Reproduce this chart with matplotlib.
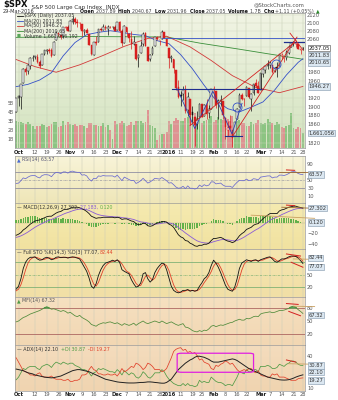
import numpy as np
import matplotlib
matplotlib.use("Agg")
import matplotlib.pyplot as plt
from matplotlib.colors import LinearSegmentedColormap
from matplotlib.patches import FancyBboxPatch
from matplotlib.ticker import FixedLocator, FixedFormatter, NullLocator
import matplotlib.transforms as mtransforms

# ---------------- data (daily bars, 30-Sep-2015 .. 28-Mar-2016) ----------------
opens = [1887.14, 1919.65, 1921.77, 1954.33, 1986.63, 1982.34, 1994.01, 2013.73, 2015.65, 2015.00,
         2003.66, 1996.47, 2024.37, 2031.73, 2033.13, 2033.47, 2021.88, 2058.19, 2075.08, 2068.75,
         2066.48, 2088.35, 2090.00, 2080.76, 2102.63, 2110.60, 2101.68, 2098.60, 2096.56, 2077.19,
         2083.41, 2072.29, 2044.64, 2022.08, 2053.67, 2051.99, 2083.70, 2082.82, 2089.41, 2084.42,
         2089.30, 2088.82, 2090.95, 2082.93, 2101.71, 2080.71, 2051.24, 2090.42, 2073.39, 2061.17,
         2047.93, 2047.27, 2013.37, 2025.55, 2046.50, 2073.76, 2040.81, 2010.27, 2023.15, 2042.20,
         2063.52, 2057.77, 2060.54, 2077.34, 2060.59, 2038.20, 2013.78, 2011.71, 1985.32, 1945.97,
         1926.12, 1927.83, 1940.34, 1891.68, 1916.68, 1888.66, 1876.18, 1861.46, 1877.40, 1906.28,
         1878.79, 1902.52, 1885.22, 1894.00, 1936.94, 1935.26, 1907.07, 1911.67, 1913.07, 1873.25,
         1848.46, 1857.10, 1847.00, 1833.40, 1871.44, 1898.80, 1927.57, 1916.74, 1924.44, 1942.38,
         1917.56, 1931.87, 1954.95, 1947.13, 1937.09, 1976.60, 1985.60, 1994.01, 1996.11, 1996.05,
         1981.44, 1990.97, 1994.71, 2019.27, 2015.27, 2014.24, 2026.90, 2041.16, 2047.88, 2048.64,
         2048.55, 2032.48, 2037.89]
highs = [1920.53, 1927.21, 1951.36, 1989.17, 1991.62, 1999.31, 2016.50, 2020.13, 2018.66, 2022.34,
         2009.56, 2024.15, 2033.54, 2034.45, 2039.12, 2037.97, 2055.20, 2079.74, 2075.14, 2070.37,
         2090.35, 2092.52, 2094.32, 2106.20, 2116.48, 2114.59, 2108.78, 2101.91, 2096.56, 2083.67,
         2086.94, 2072.29, 2044.64, 2053.22, 2066.69, 2085.31, 2086.74, 2097.06, 2095.61, 2094.12,
         2093.00, 2093.29, 2093.81, 2103.37, 2104.27, 2085.00, 2093.84, 2090.42, 2073.85, 2080.33,
         2067.65, 2047.27, 2022.92, 2053.87, 2076.72, 2076.37, 2040.81, 2022.90, 2042.74, 2064.73,
         2067.36, 2057.77, 2081.56, 2077.34, 2062.54, 2038.20, 2021.94, 2011.71, 1985.32, 1960.40,
         1935.65, 1947.38, 1950.33, 1934.47, 1916.68, 1901.44, 1876.18, 1889.85, 1908.85, 1906.28,
         1906.73, 1916.99, 1902.96, 1940.24, 1947.20, 1935.26, 1918.01, 1927.35, 1913.07, 1873.25,
         1868.25, 1881.60, 1847.00, 1864.78, 1895.77, 1930.68, 1930.00, 1918.78, 1946.70, 1942.38,
         1932.08, 1951.83, 1962.96, 1958.27, 1978.35, 1986.51, 1993.69, 2009.13, 2006.12, 1996.05,
         1992.69, 2005.08, 2022.37, 2024.57, 2015.94, 2032.02, 2046.24, 2052.36, 2053.91, 2056.60,
         2048.55, 2036.04, 2040.67]
lows = [1887.14, 1900.70, 1893.70, 1954.33, 1971.99, 1976.44, 1987.53, 2007.61, 2010.55, 2001.78,
        1990.73, 1996.47, 2020.46, 2022.31, 2026.61, 2017.22, 2021.88, 2058.19, 2066.53, 2058.84,
        2063.11, 2082.63, 2079.34, 2080.76, 2097.51, 2096.98, 2090.41, 2083.74, 2068.24, 2069.91,
        2074.85, 2045.66, 2022.02, 2019.94, 2045.90, 2051.99, 2078.76, 2082.82, 2081.39, 2070.29,
        2086.30, 2084.13, 2080.41, 2082.93, 2077.11, 2042.35, 2051.24, 2066.78, 2052.32, 2036.53,
        2045.67, 2008.80, 1993.26, 2025.55, 2042.43, 2041.66, 2005.33, 2005.93, 2020.49, 2042.20,
        2058.73, 2044.20, 2060.54, 2061.97, 2043.62, 1989.68, 2004.17, 1979.05, 1938.83, 1918.46,
        1901.10, 1914.35, 1886.41, 1878.93, 1857.83, 1864.60, 1812.29, 1848.98, 1877.40, 1875.97,
        1878.79, 1872.70, 1873.65, 1894.00, 1920.03, 1897.29, 1872.23, 1900.52, 1872.65, 1828.46,
        1834.94, 1850.32, 1810.10, 1833.40, 1871.44, 1898.80, 1915.09, 1902.17, 1924.44, 1919.44,
        1891.00, 1925.41, 1945.78, 1931.81, 1937.09, 1968.80, 1977.37, 1986.77, 1989.38, 1977.43,
        1979.84, 1969.25, 1994.71, 2012.05, 2005.23, 2010.04, 2022.16, 2041.16, 2043.14, 2040.57,
        2034.86, 2022.49, 2031.96]
closes = [1920.03, 1923.82, 1951.36, 1987.05, 1979.92, 1995.83, 2013.43, 2014.89, 2017.46, 2003.69,
          1994.24, 2023.86, 2033.11, 2033.66, 2030.77, 2018.94, 2052.51, 2075.15, 2071.18, 2065.89,
          2090.35, 2089.41, 2079.36, 2104.05, 2109.79, 2102.31, 2099.93, 2099.20, 2078.58, 2081.72,
          2075.00, 2045.97, 2023.04, 2053.19, 2050.44, 2083.58, 2081.24, 2089.17, 2086.59, 2089.14,
          2088.87, 2090.11, 2080.41, 2102.63, 2079.51, 2049.62, 2091.69, 2077.07, 2063.59, 2047.62,
          2052.23, 2012.37, 2021.94, 2043.41, 2073.07, 2041.89, 2005.55, 2021.15, 2038.97, 2064.29,
          2060.99, 2056.50, 2078.36, 2063.36, 2043.94, 2012.66, 2016.71, 1990.26, 1943.09, 1922.03,
          1923.67, 1938.68, 1890.28, 1921.84, 1880.33, 1881.33, 1859.33, 1868.99, 1906.90, 1877.08,
          1903.63, 1882.95, 1893.36, 1940.24, 1939.38, 1903.03, 1912.53, 1915.45, 1880.05, 1853.44,
          1852.21, 1851.86, 1829.08, 1864.78, 1895.58, 1926.82, 1917.83, 1917.78, 1945.50, 1921.27,
          1929.80, 1951.70, 1948.05, 1932.23, 1978.35, 1986.45, 1993.40, 1999.99, 2001.76, 1979.26,
          1989.26, 1989.57, 2022.19, 2019.64, 2015.93, 2027.22, 2040.59, 2049.58, 2051.60, 2049.80,
          2036.71, 2035.94, 2037.05]
volume_b = [3.0, 2.9, 2.9, 2.8, 2.7, 2.9, 2.7, 2.5, 2.1, 2.4,
            2.5, 2.7, 2.6, 2.3, 2.5, 2.7, 2.9, 2.9, 2.3, 2.5,
            3.0, 2.6, 2.9, 2.7, 2.6, 2.7, 2.5, 2.6, 2.6, 2.5,
            2.2, 2.8, 2.8, 2.6, 2.6, 2.4, 2.4, 2.8, 2.3, 2.6,
            2.0, 1.0, 3.0, 2.7, 2.8, 3.0, 2.8, 2.5, 2.6, 2.9,
            2.6, 3.0, 3.0, 3.0, 2.8, 2.9, 4.2, 2.6, 2.4, 2.2,
            0.9, 1.5, 1.6, 1.6, 1.8, 3.0, 2.7, 3.0, 3.3, 3.1,
            3.0, 3.0, 3.3, 3.4, 3.6, 3.4, 3.9, 3.3, 3.1, 2.8,
            3.0, 3.1, 3.2, 3.6, 2.9, 3.1, 3.5, 3.2, 3.1, 3.4,
            3.2, 3.0, 3.6, 2.9, 3.0, 3.1, 2.8, 2.8, 2.5, 2.4,
            2.9, 2.7, 2.8, 3.1, 2.8, 2.7, 2.8, 3.2, 2.9, 2.8,
            2.6, 2.9, 2.7, 2.3, 2.2, 2.4, 2.6, 3.9, 2.2, 2.1,
            2.3, 2.2, 1.66]

# moving averages (bar index, value)
ma20_idx = [0, 5, 10, 15, 20, 25, 30, 35, 40, 45, 50, 55, 60, 65, 70, 75, 80, 85, 90, 95, 100, 105, 110, 115, 120, 122]
ma20_val = [1945.9, 1951.2, 1961.4, 1978.6, 2018.9, 2051.2, 2070.7, 2076.5, 2080.5, 2076.4, 2071.3, 2068.1, 2055.9,
            2048.5, 2021.7, 1987.7, 1948.9, 1914.1, 1895.1, 1887.9, 1898.6, 1910.5, 1938.0, 1973.3, 2003.2, 2011.83]
ma50_idx = [0, 8, 17, 27, 37, 46, 56, 64, 74, 83, 92, 102, 112, 122]
ma50_val = [2010.0, 1993.0, 1979.7, 1997.3, 2019.9, 2042.0, 2061.4, 2066.9, 2040.6, 2007.7, 1971.6, 1944.0, 1931.8, 1946.27]
ma200_idx = [0, 30, 64, 78, 95, 107, 122]
ma200_val = [2064.0, 2066.0, 2065.0, 2050.0, 2035.0, 2024.0, 2010.65]

rsi = [41, 42, 48, 55, 53, 57, 60, 61, 61, 57, 55, 61, 63, 63, 62, 58, 65, 69, 68, 66,
       70, 70, 67, 71, 72, 70, 69, 69, 62, 63, 60, 52, 47, 54, 53, 60, 59, 61, 60, 60,
       60, 60, 57, 62, 55, 48, 57, 54, 51, 48, 49, 41, 44, 48, 54, 48, 42, 45, 49, 54,
       53, 52, 56, 52, 48, 42, 43, 38, 32, 29, 30, 34, 28, 35, 29, 29, 27, 29, 37, 33,
       38, 35, 37, 45, 45, 40, 41, 42, 37, 34, 34, 34, 31, 38, 44, 49, 48, 48, 52, 48,
       49, 53, 52, 50, 57, 58, 59, 60, 60, 55, 57, 57, 62, 62, 61, 63, 66, 70, 71, 70,
       66, 64, 63.57]
macd = [-24, -22, -19, -14, -11, -7, -3, 0, 3, 4, 5, 7, 9, 11, 12, 12, 15, 18, 20, 21,
        24, 25, 25, 27, 29, 29, 29, 28, 26, 24, 21, 17, 12, 10, 8, 9, 9, 10, 10, 10,
        10, 10, 9, 10, 9, 6, 7, 7, 5, 3, 2, -2, -4, -4, -1, -2, -6, -7, -6, -3,
        -1, 0, 2, 2, 1, -3, -5, -9, -16, -23, -27, -29, -34, -35, -39, -41, -44, -45, -43, -43,
        -41, -41, -39, -34, -30, -30, -29, -28, -30, -33, -35, -36, -38, -36, -31, -25, -21, -18, -13, -11,
        -9, -5, -3, -2, 3, 7, 11, 14, 17, 17, 17, 17, 22, 24, 25, 27, 29, 30, 31, 31,
        29.5, 28.5, 27.302]
signal = [-28, -26.8, -25.2, -23.0, -20.6, -17.9, -14.9, -11.9, -8.9, -6.3, -4.0, -1.8, 0.4, 2.5, 4.4, 5.9, 7.7, 9.8, 11.8, 13.6,
          15.7, 17.6, 19.0, 20.6, 22.3, 23.6, 24.7, 25.4, 25.5, 25.2, 24.4, 22.9, 20.7, 18.6, 16.5, 15.0, 13.8, 13.0, 12.4, 11.9,
          11.5, 11.2, 10.8, 10.6, 10.3, 9.4, 8.9, 8.5, 7.8, 6.8, 5.8, 4.2, 2.6, 1.3, 0.8, 0.2, -1.0, -2.2, -3.0, -3.0,
          -2.6, -2.1, -1.3, -0.6, -0.3, -0.8, -1.6, -3.1, -5.7, -9.2, -12.8, -16.0, -19.6, -22.7, -26.0, -29.0, -32.0, -34.6, -36.3, -37.6,
          -38.3, -38.8, -38.8, -37.8, -36.2, -35.0, -33.8, -32.6, -32.1, -32.3, -32.8, -33.4, -34.3, -34.6, -33.9, -32.1, -29.9, -27.5, -24.6, -21.9,
          -19.3, -16.4, -13.7, -11.4, -8.5, -5.4, -2.1, 1.1, 4.3, 6.8, 8.8, 10.4, 12.7, 15.0, 17.0, 19.0, 21.0, 22.8, 24.4, 25.7,
          26.5, 26.9, 27.183]
sto_k = [15, 22, 40, 65, 80, 88, 92, 92, 93, 88, 85, 86, 90, 92, 90, 86, 88, 92, 93, 91,
         92, 92, 90, 92, 93, 92, 90, 88, 78, 68, 58, 42, 22, 17, 28, 48, 62, 72, 78, 80,
         82, 85, 82, 86, 80, 62, 58, 55, 52, 38, 28, 20, 22, 30, 52, 55, 40, 32, 38, 55,
         65, 72, 78, 76, 62, 42, 22, 12, 8, 6, 8, 12, 12, 14, 10, 12, 10, 12, 22, 30,
         40, 45, 55, 72, 85, 78, 68, 55, 40, 25, 15, 12, 10, 20, 40, 65, 78, 82, 86, 84,
         82, 85, 86, 82, 86, 88, 90, 92, 93, 88, 82, 80, 84, 88, 88, 90, 93, 95, 95, 94,
         90, 84, 77.07]
sto_d = [11, 15, 25.7, 42.3, 61.7, 77.7, 86.7, 90.7, 92.3, 91, 88.7, 86.3, 87, 89.3, 90.7, 89.3, 88, 88.7, 91, 92,
         92, 91.7, 91.3, 91.3, 91.7, 92.3, 91.7, 90, 85.3, 78, 68, 56, 40.7, 27, 22.3, 31, 46, 60.7, 70.7, 76.7,
         80, 82.3, 83, 84.3, 82.7, 76, 66.7, 58.3, 55, 48.3, 39.3, 28.7, 23.3, 24, 34.7, 45.7, 49, 42.3, 36.7, 41.7,
         52.7, 64, 71.7, 75.3, 72, 60, 42, 25.3, 14, 8.7, 7.3, 8.7, 10.7, 12.7, 12, 12, 10.7, 11.3, 14.7, 21.3,
         30.7, 38.3, 46.7, 57.3, 70.7, 78.3, 77, 67, 54.3, 40, 26.7, 17.3, 12.3, 14, 23.3, 41.7, 61, 75, 82, 84,
         84, 83.7, 84.3, 84.3, 84.7, 85.3, 88, 90, 91.7, 91, 87.7, 83.3, 82, 84, 86.7, 88.7, 90.3, 92.7, 94.3, 94.7,
         93, 89.3, 82.44]
mfi = [48, 50, 54, 58, 60, 63, 66, 68, 70, 72, 74, 77, 80, 82, 80, 77, 78, 76, 74, 72,
       74, 72, 68, 70, 66, 62, 60, 63, 58, 55, 52, 48, 42, 40, 38, 42, 44, 46, 45, 47,
       48, 46, 44, 46, 43, 40, 44, 42, 40, 42, 45, 40, 44, 47, 50, 46, 44, 46, 48, 50,
       48, 46, 50, 47, 44, 46, 48, 45, 42, 40, 42, 44, 36, 35, 32, 28, 26, 25, 28, 26,
       29, 28, 32, 38, 40, 37, 39, 41, 40, 42, 44, 46, 47, 50, 52, 54, 52, 52, 56, 55,
       57, 60, 61, 60, 66, 68, 69, 70, 71, 69, 70, 72, 74, 74, 75, 77, 79, 82, 83, 81,
       76, 72, 67.32]
adx = [27.5, 27, 26.5, 26, 25, 24, 23.5, 23, 22, 21.5, 21, 20.5, 20, 19.7, 19.5, 19.3, 19.5, 20, 20.5, 21,
       22, 23, 24, 25, 26, 26.5, 27, 27, 26.5, 26, 25.5, 25, 24, 23, 22, 21, 20, 19, 18, 17.5,
       17, 16.5, 16, 15.5, 15.2, 15, 14.8, 14.6, 14.5, 14.5, 14.5, 14.6, 14.8, 15, 15, 15.2, 15.5, 15.5, 15.3, 15,
       14.8, 14.5, 14.3, 14.3, 15, 16.5, 18, 21, 24, 27, 29, 31, 33, 34.5, 36, 37, 38.5, 39.5, 39.5, 39,
       38.5, 37.5, 36.5, 35, 34, 34, 34, 34.5, 35, 35.5, 36, 36.5, 37, 36.5, 35.5, 34, 32.5, 31, 29.5, 28,
       27, 26, 25, 24, 23, 22, 21, 20, 19.5, 19, 18.5, 18, 17.5, 17.3, 17.2, 17.3, 17.6, 18.2, 19, 20,
       20.8, 21.5, 22.10]
plus_di = [17.5, 20, 24, 28, 27, 29, 30, 30, 30, 28, 27, 30, 31, 32, 31, 29, 32, 34, 33, 32,
           34, 33, 32, 33, 33, 31, 30, 29, 27, 27, 26, 24, 21, 24, 25, 28, 27, 28, 27, 26,
           25, 25, 24, 27, 25, 22, 26, 24, 22, 24, 23, 20, 19, 21, 25, 23, 20, 19, 21, 24,
           24, 24, 27, 25, 21, 18, 16, 14, 13, 12, 12, 14, 12, 14, 12, 12, 11, 12, 17, 15,
           16, 15, 15, 20, 18, 16, 15, 15, 14, 12, 13, 13, 12, 16, 20, 25, 24, 23, 27, 25,
           25, 27, 27, 25, 30, 30, 30, 31, 30, 28, 28, 29, 32, 31, 30, 32, 33, 35, 35, 34,
           32, 31, 30.87]
minus_di = [38, 34, 30, 26, 25, 24, 22, 22, 21, 23, 24, 21, 20, 20, 20, 21, 19, 18, 18, 18,
            17, 17, 18, 16, 16, 17, 17, 18, 22, 22, 23, 27, 30, 27, 26, 23, 23, 22, 22, 23,
            22, 22, 23, 21, 24, 28, 25, 26, 28, 30, 29, 33, 32, 30, 27, 29, 33, 32, 30, 27,
            27, 27, 25, 26, 28, 33, 38, 44, 46, 47, 47.5, 45, 46, 43, 44, 42, 43, 40, 36, 37,
            34, 33, 32, 28, 27, 31, 30, 32, 33, 35, 34, 32, 33, 30, 27, 25, 26, 27, 26, 28,
            28, 25, 24, 26, 22, 21, 21, 20, 20, 23, 22, 23, 20, 20, 20, 19, 18, 17, 17, 17,
            18.5, 19, 19.27]

tick_pos = [1, 8, 13, 18, 23, 28, 33, 38, 43, 47, 52, 57, 61, 65, 70, 75, 79, 84, 89, 94, 98, 104, 108, 113, 118, 122]
tick_lbl = ["Oct", "12", "19", "26", "Nov", "9", "16", "23", "Dec", "7", "14", "21", "28", "2016",
            "11", "19", "25", "Feb", "8", "16", "22", "Mar", "7", "14", "21", "28"]
month_lbl = {"Oct", "Nov", "Dec", "2016", "Feb", "Mar"}
price_grid = list(range(1820, 2121, 20))
price_ticks = [2120, 2100, 2080, 2060, 1980, 1960, 1920, 1900, 1880, 1860, 1820]

# ---------------- figure ----------------
W, H = 338, 400
fig = plt.figure(figsize=(W / 100, H / 100), dpi=100)
fig.patch.set_facecolor("white")
FS = 3.7
LFS = 3.4
x = np.arange(len(closes))
XL = (-0.51, 122.9)


def panel(y_top, y_bot):
    return fig.add_axes([15 / W, 1 - y_bot / H, 290 / W, (y_bot - y_top) / H])


def shade(ax, c_top, c_bot):
    cmap = LinearSegmentedColormap.from_list("bg", [c_top, c_bot])
    ax.imshow(np.linspace(0, 1, 64)[:, None], aspect="auto", cmap=cmap,
              extent=[0, 1, 0, 1], transform=ax.transAxes, zorder=0)


def frame(ax, gridc="#c9cbb8"):
    for s in ax.spines.values():
        s.set_color("#9a9a9a")
        s.set_linewidth(0.5)
    for p in tick_pos:
        ax.axvline(p, color=gridc, lw=0.35, zorder=1)
    ax.set_xlim(*XL)
    ax.set_xticks([])
    ax.yaxis.tick_right()
    ax.tick_params(axis="y", which="both", length=0, labelsize=FS, pad=1.5, labelcolor="#555555")


def tag(ax, val, text, fc="#dbe7f1", ec="#7f96aa", tc="#333333", dy=0.0):
    tr = mtransforms.blended_transform_factory(ax.transAxes, ax.transData)
    off = mtransforms.offset_copy(tr, fig=fig, x=0, y=dy, units="points")
    ax.text(1.012, val, text, transform=off, fontsize=FS, color=tc, va="center", ha="left",
            bbox=dict(boxstyle="square,pad=0.12", fc=fc, ec=ec, lw=0.4), clip_on=False, zorder=10)


def chain(ax, x0, y0, parts, coords=None, fs=LFS):
    """Write consecutive text pieces, each starting where the previous one ends."""
    tr = ax.transAxes if coords is None else coords
    t0, c0, w0, s0 = parts[0]
    prev = ax.text(x0, y0, t0, transform=tr, fontsize=s0 or fs, color=c0, fontweight=w0,
                   va="baseline", ha="left", zorder=9)
    for t, col, wt, sz in parts[1:]:
        prev = ax.annotate(t, xy=(1, 0), xycoords=prev, fontsize=sz or fs, color=col, fontweight=wt,
                           va="bottom", ha="left", zorder=9)
    return prev


def xlabels(ax):
    tr = mtransforms.blended_transform_factory(ax.transData, ax.transAxes)
    for p, t in zip(tick_pos, tick_lbl):
        ax.text(p, -0.012, t, transform=tr, ha="center", va="top", fontsize=FS,
                fontweight="bold" if t in month_lbl else "normal",
                color="#222222" if t in month_lbl else "#555555", clip_on=False)


# ---------------- header ----------------
hdr = fig.add_axes([0, 0, 1, 1])
hdr.set_axis_off()
hdr.set_xlim(0, W)
hdr.set_ylim(H, 0)
chain(hdr, 3, 7.5, [("$SPX", "#111111", "bold", 6.0),
                    ("  S&P 500 Large Cap Index  INDX", "#333333", "normal", 4.1)], coords=hdr.transData)
hdr.text(305, 5, "@StockCharts.com", fontsize=3.9, va="center", ha="right", color="#555555")
hdr.text(3, 11.5, "29-Mar-2016", fontsize=3.6, va="center", color="#333333")
chain(hdr, 80, 12.8,
      [("Open ", "#111111", "bold", None), ("2037.89  ", "#444444", "normal", None),
       ("High ", "#111111", "bold", None), ("2040.67  ", "#444444", "normal", None),
       ("Low ", "#111111", "bold", None), ("2031.96  ", "#444444", "normal", None),
       ("Close ", "#111111", "bold", None), ("2037.05  ", "#444444", "normal", None),
       ("Volume ", "#111111", "bold", None), ("1.7B  ", "#444444", "normal", None),
       ("Chg ", "#111111", "bold", None), ("+1.11 (+0.05%) ", "#444444", "normal", None),
       ("\u25b2", "#2a8a2a", "normal", None)],
      coords=hdr.transData, fs=3.45)

# ---------------- price panel (volume axis underneath) ----------------
P_TOP, P_BOT = 13, 148
axv = panel(P_TOP, P_BOT)
shade(axv, "#f1f4e4", "#d3e3bf")
vcol = ["#8cc482" if (i == 0 or closes[i] >= closes[i - 1]) else "#df9292" for i in x]
axv.bar(x, volume_b, width=0.8, color=vcol, zorder=2)
axv.set_ylim(0, (P_BOT - P_TOP) / 9.0)
axv.set_xlim(*XL)
axv.set_xticks([])
axv.set_yticks([1, 2, 3, 4, 5])
axv.set_yticklabels(["1B", "2B", "3B", "4B", "5B"])
axv.tick_params(axis="y", length=0, labelsize=3.3, pad=1.0, labelcolor="#555555")
for s in axv.spines.values():
    s.set_visible(False)

axp = panel(P_TOP, P_BOT)
axp.patch.set_visible(False)
axp.set_yscale("log")
frame(axp, "#c2ccb2")
for lvl in price_grid:
    axp.axhline(lvl, color="#cfd8bf", lw=0.3, zorder=1)

axp.plot(ma200_idx, ma200_val, color="#3a8f3a", lw=0.6, zorder=3)
axp.plot(ma50_idx, ma50_val, color="#d23a3a", lw=0.6, zorder=3)
axp.plot(ma20_idx, ma20_val, color="#3550c8", lw=0.6, zorder=3)

o = np.array(opens); c = np.array(closes); hi = np.array(highs); lo = np.array(lows)
prev_c = np.r_[c[0] - 1, c[:-1]]
ccol = np.where(c >= prev_c, "#111111", "#d81e1e")
axp.vlines(x, lo, hi, colors=ccol, lw=0.5, zorder=4)
body_lo = np.minimum(o, c)
body_h = np.maximum(np.abs(c - o), 0.8)
filled = c < o
face = [cc if f else "white" for cc, f in zip(ccol, filled)]
axp.bar(x, body_h, bottom=body_lo, width=0.7, color=face, edgecolor=ccol, linewidth=0.35, zorder=5)

# drawn trend lines and pattern marks
axp.plot([66.3, 105], [1939.7, 1939.7], color="#1f2f8f", lw=0.8, zorder=6)
axp.plot([62, 122.5], [2062.2, 2062.2], color="#3550c8", lw=0.6, zorder=6)
axp.plot([114, 123], [2052.3, 2052.3], color="#1f2f8f", lw=0.9, zorder=6)
axp.plot([88.9, 96.1], [1835.3, 1835.3], color="#1f2f8f", lw=0.8, zorder=6)
axp.plot([68.4, 76, 83.7, 91.8, 96.1], [1942.0, 1850.8, 1935.3, 1838.9, 1907.3], color="#2b3fae", lw=0.6, zorder=6)
axp.plot([74.0, 118.6], [1857.5, 2052.3], color="#d42020", lw=0.6, zorder=6)
axp.plot([92.3, 119.5], [1835.3, 2064.7], color="#d42020", lw=0.6, zorder=6)
axp.plot([116.5, 122.1], [2074.6, 2032.7], color="#d42020", lw=0.6, zorder=6)
axp.plot([94.0, 110.5], [1898.0, 1999.0], ls="none", marker="o", ms=6.5, mfc="none",
         mec="#3550c8", mew=0.6, zorder=6)

axp.set_ylim(1808.1, 2125.1)
axp.set_xlim(*XL)
axp.yaxis.set_major_locator(FixedLocator(price_ticks))
axp.yaxis.set_major_formatter(FixedFormatter([str(v) for v in price_ticks]))
axp.yaxis.set_minor_locator(NullLocator())
tag(axp, 2037.05, "2037.05", fc="#ffffff", ec="#444444", tc="#111111")
tag(axp, 2011.83, "2011.83", dy=2.4)
tag(axp, 2010.65, "2010.65", dy=-2.4)
tag(axp, 1946.27, "1946.27")
tag(axv, 1.66, "1,661,056")
xlabels(axp)

leg = [("$SPX (Daily) 2037.05", "#111111"), ("MA(20) 2011.83", "#3550c8"), ("MA(50) 1946.27", "#d23a3a"),
       ("MA(200) 2010.65", "#3a8f3a")]
for k, (t, col) in enumerate(leg):
    yy = 1 - (3 + 5 * k) / 135
    axp.plot([0.006, 0.026], [yy, yy], transform=axp.transAxes, color=col, lw=0.6, zorder=8)
    axp.text(0.032, yy, t, transform=axp.transAxes, fontsize=LFS, va="center", color="#333333", zorder=8)
yy = 1 - 23 / 135
axp.text(0.006, yy, "\u25a0", transform=axp.transAxes, fontsize=3.0, va="center", color="#5aa65a", zorder=8)
axp.text(0.032, yy, "Volume 1,661,056,192", transform=axp.transAxes, fontsize=LFS, va="center",
         color="#333333", zorder=8)

# ---------------- RSI ----------------
axr = panel(156, 203)
shade(axr, "#f8f4d8", "#efe6b8")
frame(axr)
axr.axhline(70, color="#7d7d9a", lw=0.5)
axr.axhline(30, color="#7d7d9a", lw=0.5)
axr.axhline(50, color="#8a8a9a", lw=0.4, ls=(0, (4, 1.5, 1, 1.5)))
axr.plot(x, rsi, color="#6a6ad0", lw=0.55, zorder=4)
axr.plot([112, 126], [70, 70], color="#9c6a30", lw=0.6, clip_on=False, zorder=5)
axr.plot([115, 118.5], [75, 74], color="#d42020", lw=0.7, zorder=5)
axr.set_ylim(-8, 110)
axr.set_yticks([10, 30, 50, 90])
tag(axr, 63.57, "63.57")
chain(axr, 0.006, 0.895, [("\u25b2 ", "#4a6ad0", "normal", None), ("RSI(14) 63.57", "#555577", "normal", None)])

# ---------------- MACD ----------------
axm = panel(203, 249)
shade(axm, "#f5eab0", "#f1e2a0")
frame(axm)
hist = np.array(macd) - np.array(signal)
axm.bar(x, hist, width=0.6, color="#62b04a", zorder=3)
axm.axhline(0, color="#b7b08a", lw=0.3)
axm.plot(x, signal, color="#8a5ad6", lw=0.6, zorder=4)
axm.plot(x, macd, color="#111111", lw=0.6, zorder=5)
axm.plot([113, 127], [29, 27], color="#9c6a30", lw=0.6, clip_on=False, zorder=6)
axm.plot([100, 127], [14, 8], color="#c9a060", lw=0.6, clip_on=False, zorder=6)
axm.plot([115, 118.5], [33, 32], color="#d42020", lw=0.7, zorder=6)
axm.set_ylim(-50, 37)
axm.set_yticks([-40, -20])
tag(axm, 27.302, "27.302")
tag(axm, 0.120, "0.120")
chain(axm, 0.006, 0.875, [("\u2014 MACD(12,26,9) 27.302, ", "#333333", "normal", None),
                          ("27.183, ", "#8a5ad6", "normal", None), ("0.120", "#62b04a", "normal", None)])

# ---------------- Full Stochastics ----------------
axs = panel(249, 297)
shade(axs, "#f5e6b0", "#f1dfa6")
frame(axs)
axs.axhline(80, color="#6aa86a", lw=0.5)
axs.axhline(20, color="#6aa86a", lw=0.5)
axs.axhline(50, color="#6aa86a", lw=0.4, ls=(0, (4, 1.5, 1, 1.5)))
axs.plot(x, sto_d, color="#e0402a", lw=0.6, zorder=4)
axs.plot(x, sto_k, color="#111111", lw=0.6, zorder=5)
axs.plot([118, 127], [88, 87], color="#c9a060", lw=0.6, clip_on=False, zorder=6)
axs.plot([115, 121], [100, 95], color="#d42020", lw=0.7, zorder=6)
axs.plot([117, 122], [80, 68], color="#d42020", lw=0.7, zorder=6)
axs.set_ylim(-4, 112)
axs.set_yticks([20, 50])
tag(axs, 82.44, "82.44", dy=2.4)
tag(axs, 77.07, "77.07", dy=-2.4)
chain(axs, 0.006, 0.895, [("\u2014 Full STO %K(14,3) %D(3) 77.07, ", "#333333", "normal", None),
                          ("82.44", "#e0402a", "normal", None)])

# ---------------- MFI ----------------
axf = panel(297, 345)
shade(axf, "#f6e0c0", "#f2d7b3")
frame(axf)
axf.axhline(80, color="#a05050", lw=0.5)
axf.axhline(20, color="#a05050", lw=0.5)
mf = np.array(mfi)
axf.fill_between(x, 80, mf, where=mf >= 80, color="#5aa65a", interpolate=True, zorder=3)
axf.plot(x, mfi, color="#4f8a3a", lw=0.55, zorder=4)
axf.plot([118, 127], [84, 83], color="#c9a060", lw=0.6, clip_on=False, zorder=6)
axf.plot([115, 120], [90, 88], color="#d42020", lw=0.7, zorder=6)
axf.plot([116, 121], [72, 62], color="#d42020", lw=0.7, zorder=6)
axf.set_ylim(-5, 105)
axf.set_yticks([20, 50, 80])
tag(axf, 67.32, "67.32", dy=-1.2)
chain(axf, 0.006, 0.895, [("\u25b2 ", "#4f9a45", "normal", None), ("MFI(14) 67.32", "#555555", "normal", None)])

# ---------------- ADX ----------------
axa = panel(345, 391)
shade(axa, "#f4dcbd", "#f0d4b0")
frame(axa)
axa.plot(x, plus_di, color="#4f9a45", lw=0.55, zorder=3)
axa.plot(x, minus_di, color="#e0402a", lw=0.55, zorder=4)
axa.plot(x, adx, color="#222222", lw=0.7, zorder=5)
box = FancyBboxPatch((68.5, 24.5), 32.5, 17.8, boxstyle="round,pad=0,rounding_size=2",
                     fc="none", ec="#e020e0", lw=0.9, zorder=7, mutation_aspect=0.5)
axa.add_patch(box)
axa.plot([116, 127], [32.5, 32.0], color="#c9a060", lw=0.6, clip_on=False, zorder=6)
axa.plot([115, 119], [36, 34], color="#d42020", lw=0.7, zorder=6)
axa.set_ylim(7, 50)
axa.set_yticks([10, 40])
tag(axa, 30.87, "30.87")
tag(axa, 22.10, "22.10", dy=1.9)
tag(axa, 19.27, "19.27", dy=-1.9)
chain(axa, 0.006, 0.88, [("\u2014 ADX(14) 22.10  ", "#333333", "normal", None),
                         ("+DI 30.87  ", "#4f9a45", "normal", None), ("-DI 19.27", "#e0402a", "normal", None)])
xlabels(axa)

fig.savefig("out.png", dpi=100, facecolor="white")
